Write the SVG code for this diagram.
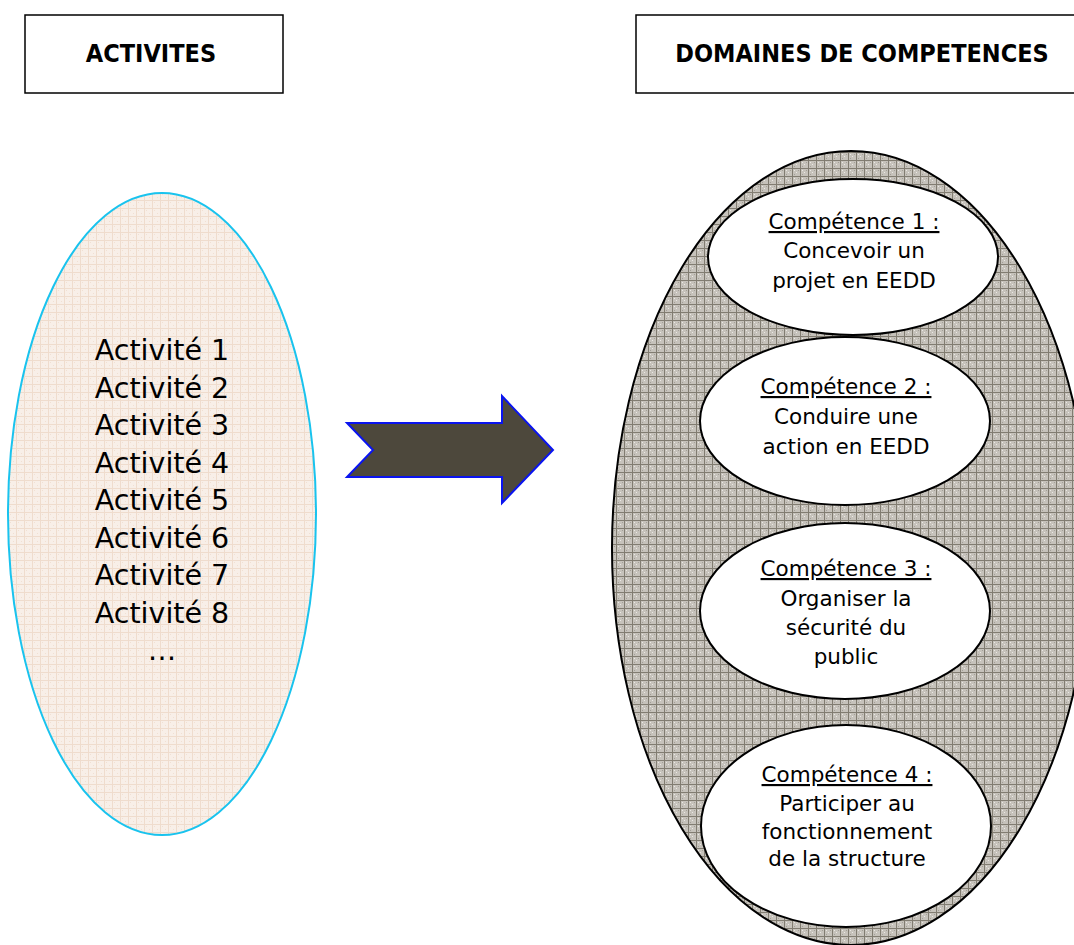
<svg xmlns="http://www.w3.org/2000/svg" width="1074" height="945" viewBox="0 0 1074 945">
  <defs>
    <!-- light peach grid texture -->
    <pattern id="peachGrid" width="8" height="8" patternUnits="userSpaceOnUse">
      <rect width="8" height="8" fill="#f8efe8"/>
      <rect x="2" y="2" width="1" height="1" fill="#f1e0d3"/>
      <rect x="5" y="5" width="1" height="1" fill="#f1e0d3"/>
      <rect x="0" y="0" width="8" height="1" fill="#efdccd"/>
      <rect x="0" y="0" width="1" height="8" fill="#efdccd"/>
    </pattern>
    <!-- grey grid texture -->
    <pattern id="greyGrid" width="8" height="8" patternUnits="userSpaceOnUse">
      <rect width="8" height="8" fill="#c6c2bb"/>
      <rect x="2" y="2" width="1" height="1" fill="#ebe9e5"/>
      <rect x="4" y="4" width="1" height="1" fill="#ebe9e5"/>
      <rect x="6" y="2" width="1" height="1" fill="#a39f97"/>
      <rect x="2" y="6" width="1" height="1" fill="#a39f97"/>
      <rect x="0" y="0" width="8" height="1" fill="#817c71"/>
      <rect x="0" y="0" width="1" height="8" fill="#817c71"/>
    </pattern>
  </defs>
  <style>
    .box { fill: #ffffff; stroke: #000000; stroke-width: 1.5; }
    .title { font-family: "DejaVu Sans Condensed", "DejaVu Sans", sans-serif; font-weight: bold; font-size: 25px; fill: #000000; text-anchor: middle; }
    .act { font-family: "DejaVu Sans", Verdana, sans-serif; font-size: 28.5px; fill: #000000; text-anchor: middle; }
    .comp { font-family: "DejaVu Sans", Verdana, sans-serif; font-size: 21.5px; fill: #000000; text-anchor: middle; }
    .inner { fill: #ffffff; stroke: #000000; stroke-width: 2; }
  </style>

  <rect width="1074" height="945" fill="#ffffff"/>

  <!-- header boxes -->
  <g id="header-activites">
    <rect class="box" x="25" y="15" width="258" height="78"/>
    <text class="title" x="151" y="62">ACTIVITES</text>
  </g>
  <g id="header-domaines">
    <rect class="box" x="636" y="15" width="450" height="78"/>
    <text class="title" x="862" y="62">DOMAINES DE COMPETENCES</text>
  </g>

  <!-- activities -->
  <g id="activites">
    <ellipse cx="162" cy="514" rx="154" ry="321" fill="url(#peachGrid)" stroke="#19c3ee" stroke-width="2"/>
    <text class="act" x="162" y="360">Activité 1</text>
    <text class="act" x="162" y="397.5">Activité 2</text>
    <text class="act" x="162" y="435">Activité 3</text>
    <text class="act" x="162" y="472.5">Activité 4</text>
    <text class="act" x="162" y="510">Activité 5</text>
    <text class="act" x="162" y="547.5">Activité 6</text>
    <text class="act" x="162" y="585">Activité 7</text>
    <text class="act" x="162" y="622.5">Activité 8</text>
    <text class="act" x="162" y="660">…</text>
  </g>

  <!-- connector -->
  <g id="connectors">
    <polygon points="347,423 502,423 502,396 553,450 502,503 502,477 347,477 373,450" fill="#4d483c" stroke="#0a14f0" stroke-width="2" stroke-linejoin="miter"/>
  </g>

  <!-- competence domains -->
  <g id="domaines">
    <ellipse cx="851" cy="548" rx="239" ry="397" fill="url(#greyGrid)" stroke="#000000" stroke-width="2"/>
  </g>

  <g id="competence-1">
    <ellipse class="inner" cx="853" cy="257" rx="145" ry="78"/>
    <text class="comp" x="854" y="229" text-decoration="underline">Compétence 1 :</text>
    <text class="comp" x="854" y="258">Concevoir un</text>
    <text class="comp" x="854" y="288">projet en EEDD</text>
  </g>

  <g id="competence-2">
    <ellipse class="inner" cx="845" cy="421" rx="145" ry="84"/>
    <text class="comp" x="846" y="394" text-decoration="underline">Compétence 2 :</text>
    <text class="comp" x="846" y="424">Conduire une</text>
    <text class="comp" x="846" y="454">action en EEDD</text>
  </g>

  <g id="competence-3">
    <ellipse class="inner" cx="845" cy="611" rx="145" ry="88"/>
    <text class="comp" x="846" y="576" text-decoration="underline">Compétence 3 :</text>
    <text class="comp" x="846" y="606">Organiser la</text>
    <text class="comp" x="846" y="635">sécurité du</text>
    <text class="comp" x="846" y="664">public</text>
  </g>

  <g id="competence-4">
    <ellipse class="inner" cx="846" cy="826" rx="145" ry="101"/>
    <text class="comp" x="847" y="782" text-decoration="underline">Compétence 4 :</text>
    <text class="comp" x="847" y="811">Participer au</text>
    <text class="comp" x="847" y="839">fonctionnement</text>
    <text class="comp" x="847" y="866">de la structure</text>
  </g>
</svg>
